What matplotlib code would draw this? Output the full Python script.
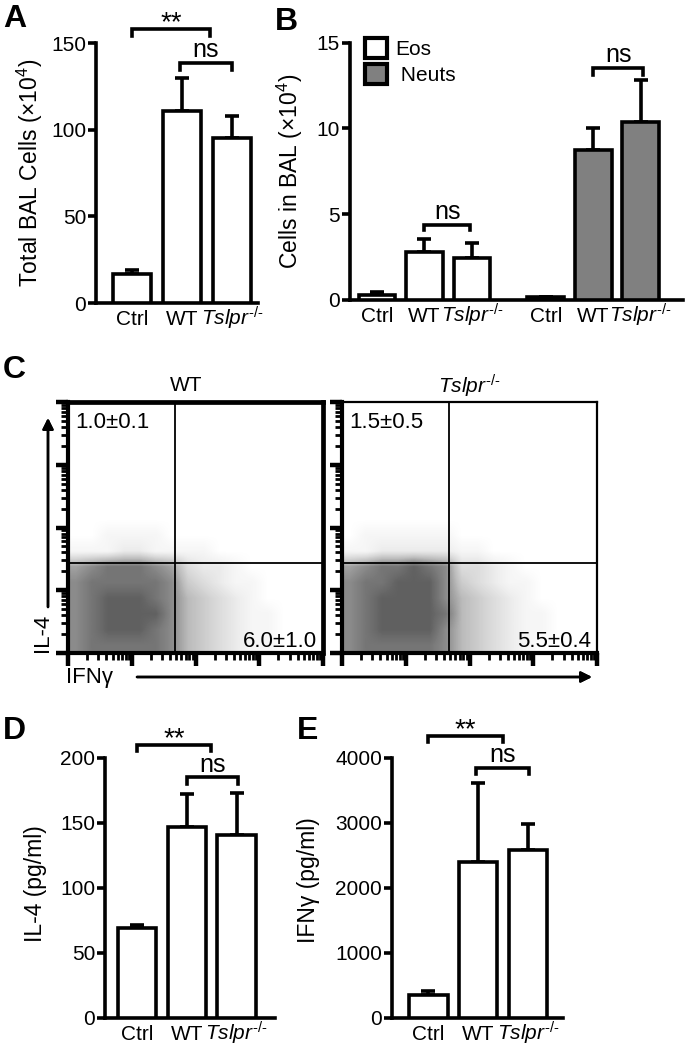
import matplotlib
matplotlib.use('Agg')
import matplotlib.pyplot as plt
import numpy as np
from matplotlib.patches import Patch

plt.rcParams['font.family'] = ['Liberation Sans', 'DejaVu Sans']
plt.rcParams['mathtext.fontset'] = 'custom'
plt.rcParams['mathtext.rm'] = 'Liberation Sans'
plt.rcParams['mathtext.it'] = 'Liberation Sans:italic'
plt.rcParams['mathtext.bf'] = 'Liberation Sans:bold'

# ---------------- data ----------------
KO = r'$\mathit{Tslpr}^{\mathit{\text{-/-}}}$'
groups = ['Ctrl', 'WT', KO]

total_bal = [17, 111, 95]
total_bal_err = [2, 19, 13]

eos = [0.3, 2.8, 2.45]
eos_err = [0.15, 0.75, 0.85]
neuts = [0.15, 8.75, 10.4]
neuts_err = [0.05, 1.3, 2.4]

il4 = [69, 147, 141]
il4_err = [2.5, 25, 32]
ifng = [350, 2400, 2585]
ifng_err = [65, 1215, 400]

# flow plots: quadrant gates (decades) and estimated dot density (0-9),
# cells of 0.25 decade, rows from the bottom (IL-4 0..2.5), cols IFNg 0..4
gate_x = 1.68
gate_y = 1.43
wt_labels = ['1.0\u00b10.1', '6.0\u00b11.0']
ko_labels = ['1.5\u00b10.5', '5.5\u00b10.4']
wt_density = [
    [7, 8, 8, 8, 8, 8, 7, 5, 4, 3, 2, 1, 1, 0, 0, 0],
    [7, 8, 9, 9, 9, 8, 7, 5, 4, 3, 2, 1, 1, 0, 0, 0],
    [7, 8, 9, 9, 9, 9, 7, 5, 4, 3, 2, 1, 1, 0, 0, 0],
    [7, 8, 9, 9, 9, 8, 7, 5, 4, 3, 2, 1, 0, 0, 0, 0],
    [7, 8, 8, 8, 8, 8, 7, 4, 3, 2, 1, 1, 0, 0, 0, 0],
    [6, 7, 8, 8, 8, 7, 6, 3, 2, 2, 1, 0, 0, 0, 0, 0],
    [1, 1, 1, 2, 2, 1, 1, 1, 1, 0, 0, 0, 0, 0, 0, 0],
    [0, 0, 1, 1, 1, 1, 0, 0, 0, 0, 0, 0, 0, 0, 0, 0],
    [0, 0, 0, 0, 0, 0, 0, 0, 0, 0, 0, 0, 0, 0, 0, 0],
    [0, 0, 0, 0, 0, 0, 0, 0, 0, 0, 0, 0, 0, 0, 0, 0],
]
ko_density = [
    [7, 8, 8, 8, 8, 8, 7, 5, 4, 3, 2, 1, 0, 0, 0, 0],
    [7, 8, 9, 9, 9, 9, 7, 5, 4, 3, 2, 1, 1, 0, 0, 0],
    [7, 8, 9, 9, 9, 9, 8, 5, 4, 3, 2, 1, 1, 0, 0, 0],
    [7, 8, 9, 9, 9, 9, 7, 5, 4, 3, 2, 1, 0, 0, 0, 0],
    [7, 8, 8, 9, 9, 9, 7, 4, 3, 2, 1, 1, 0, 0, 0, 0],
    [6, 7, 8, 8, 9, 8, 7, 3, 3, 2, 1, 0, 0, 0, 0, 0],
    [1, 1, 2, 2, 2, 2, 2, 1, 1, 0, 0, 0, 0, 0, 0, 0],
    [0, 1, 1, 1, 1, 1, 1, 0, 0, 0, 0, 0, 0, 0, 0, 0],
    [0, 0, 0, 0, 0, 0, 0, 0, 0, 0, 0, 0, 0, 0, 0, 0],
    [0, 0, 0, 0, 0, 0, 0, 0, 0, 0, 0, 0, 0, 0, 0, 0],
]

LW = 2.6
TICK_FS = 15
LABEL_FS = 16.5


def style_bar_axes(ax, yticks, xlim):
    for s in ['top', 'right']:
        ax.spines[s].set_visible(False)
    for s in ['left', 'bottom']:
        ax.spines[s].set_linewidth(LW)
    ax.set_yticks(yticks)
    ax.set_ylim(yticks[0], yticks[-1])
    ax.set_xlim(*xlim)
    ax.tick_params(axis='y', direction='out', length=6, width=LW, labelsize=TICK_FS, pad=1)
    ax.tick_params(axis='x', length=0, labelsize=TICK_FS, pad=16)


def set_groups(ax, pos, labels):
    ax.set_xticks(pos)
    ax.set_xticklabels(labels)
    for lbl in ax.get_xticklabels():
        lbl.set_verticalalignment('baseline')


def draw_bars(ax, pos, vals, errs, color):
    ax.bar(pos, vals, width=0.77, color=color, edgecolor='black', linewidth=LW, zorder=3)
    ax.errorbar(pos, vals, yerr=[np.zeros(len(errs)), errs], fmt='none', ecolor='black',
                elinewidth=LW, capsize=5, capthick=LW, zorder=2)


def bracket(ax, x0, x1, y, h, label, off, fs):
    ax.plot([x0, x0, x1, x1], [y - h, y, y, y - h], color='black', lw=LW,
            clip_on=False, solid_joinstyle='miter')
    ax.annotate(label, xy=((x0 + x1) / 2, y), xytext=(0, off), textcoords='offset points',
                ha='center', va='baseline', fontsize=fs, annotation_clip=False)


fig = plt.figure(figsize=(6.9, 10.5), dpi=100)

# ---------------- A ----------------
axA = fig.add_axes([0.139, 0.7114, 0.235, 0.2476])
x3 = np.arange(3)
draw_bars(axA, x3, total_bal, total_bal_err, 'white')
style_bar_axes(axA, [0, 50, 100, 150], (-0.72, 2.52))
set_groups(axA, x3, groups)
axA.set_ylabel(r'Total BAL Cells (×10$^4$)', fontsize=LABEL_FS)
axA.yaxis.set_label_coords(-0.315, 0.5)
bracket(axA, 0, 1.56, 158, 4, '**', -1, 20)
bracket(axA, 0.96, 2.0, 138.5, 4, 'ns', 4, 18)

# ---------------- B ----------------
axB = fig.add_axes([0.507, 0.7143, 0.483, 0.245])
pos_e = np.array([0, 1, 2])
pos_n = np.array([3.55, 4.55, 5.55])
draw_bars(axB, pos_e, eos, eos_err, 'white')
draw_bars(axB, pos_n, neuts, neuts_err, '#808080')
style_bar_axes(axB, [0, 5, 10, 15], (-0.57, 6.44))
set_groups(axB, np.concatenate([pos_e, pos_n]), groups + groups)
axB.set_ylabel(r'Cells in BAL (×10$^4$)', fontsize=LABEL_FS)
axB.yaxis.set_label_coords(-0.135, 0.5)
bracket(axB, 1.0, 1.96, 4.38, 0.3, 'ns', 4, 18)
bracket(axB, 4.55, 5.6, 13.55, 0.45, 'ns', 4, 18)
handles = [Patch(facecolor='white', edgecolor='black', linewidth=3, label='Eos'),
           Patch(facecolor='#808080', edgecolor='black', linewidth=3, label=' Neuts')]
axB.legend(handles=handles, loc='upper left', bbox_to_anchor=(0.02, 1.05), frameon=False,
           fontsize=15, handlelength=1.05, handleheight=1.05, handletextpad=0.4,
           labelspacing=0.25, borderaxespad=0)


# ---------------- C ----------------
def flow_panel(rect, density, labels, frame_lw):
    ax = fig.add_axes(rect)
    ax.imshow(np.array(density), extent=(0, 4, 0, 2.5), origin='lower', cmap='Greys',
              vmin=0, vmax=13, interpolation='bilinear', aspect='auto', zorder=1)
    ax.axvline(gate_x, color='black', lw=1.3, zorder=2)
    ax.axhline(gate_y, color='black', lw=1.3, zorder=2)
    ax.set_xlim(0, 4)
    ax.set_ylim(0, 4)
    major = [0, 1, 2, 3, 4]
    minor = [d + np.log10(k) for d in range(4) for k in range(2, 10)]
    ax.set_xticks(major)
    ax.set_yticks(major)
    ax.set_xticks(minor, minor=True)
    ax.set_yticks(minor, minor=True)
    ax.tick_params(which='major', direction='out', length=9, width=3.2,
                   labelleft=False, labelbottom=False)
    ax.tick_params(which='minor', direction='out', length=5, width=2)
    for s in ax.spines.values():
        s.set_linewidth(frame_lw)
    ax.spines['left'].set_linewidth(3)
    ax.spines['bottom'].set_linewidth(3)
    ax.text(0.027, 0.92, labels[0], transform=ax.transAxes, ha='left', va='center', fontsize=16)
    ax.text(0.976, 0.044, labels[1], transform=ax.transAxes, ha='right', va='center', fontsize=16)
    return ax


axC1 = flow_panel([0.0986, 0.3781, 0.3696, 0.239], wt_density, wt_labels, 3.4)
axC2 = flow_panel([0.4957, 0.3781, 0.3696, 0.239], ko_density, ko_labels, 1.6)
axC1.text(0.463, 1.064, 'WT', transform=axC1.transAxes, ha='center', va='center', fontsize=15)
axC2.text(0.50, 1.064, KO, transform=axC2.transAxes, ha='center', va='center', fontsize=15)

# axis arrows and labels
fig.add_artist(plt.annotate('', xy=(48 / 690, 1 - 418 / 1050), xytext=(48 / 690, 1 - 607 / 1050),
                            xycoords='figure fraction', textcoords='figure fraction',
                            arrowprops=dict(arrowstyle='-|>', lw=1.8, color='black',
                                            mutation_scale=16, shrinkA=0, shrinkB=0)))
fig.add_artist(plt.annotate('', xy=(592 / 690, 1 - 677 / 1050), xytext=(137 / 690, 1 - 677 / 1050),
                            xycoords='figure fraction', textcoords='figure fraction',
                            arrowprops=dict(arrowstyle='-|>', lw=1.8, color='black',
                                            mutation_scale=16, shrinkA=0, shrinkB=0)))
fig.text(42 / 690, 1 - 633 / 1050, 'IL-4', rotation=90, ha='center', va='center', fontsize=16)
fig.text(66 / 690, 1 - 678 / 1050, 'IFN\u03b3', ha='left', va='center', fontsize=16)

# ---------------- D ----------------
axD = fig.add_axes([0.152, 0.0305, 0.246, 0.2476])
draw_bars(axD, x3, il4, il4_err, 'white')
style_bar_axes(axD, [0, 50, 100, 150, 200], (-0.64, 2.76))
set_groups(axD, x3, groups)
axD.set_ylabel('IL-4 (pg/ml)', fontsize=LABEL_FS)
axD.yaxis.set_label_coords(-0.34, 0.515)
bracket(axD, 0, 1.48, 210, 5, '**', -1, 20)
bracket(axD, 1.0, 2.02, 185, 5, 'ns', 4, 18)

# ---------------- E ----------------
axE = fig.add_axes([0.568, 0.0305, 0.248, 0.2476])
draw_bars(axE, x3, ifng, ifng_err, 'white')
style_bar_axes(axE, [0, 1000, 2000, 3000, 4000], (-0.73, 2.7))
set_groups(axE, x3, groups)
axE.set_ylabel('IFN\u03b3 (pg/ml)', fontsize=LABEL_FS)
axE.yaxis.set_label_coords(-0.42, 0.53)
bracket(axE, 0, 1.49, 4340, 95, '**', -1, 20)
bracket(axE, 0.96, 2.02, 3850, 95, 'ns', 4, 18)

# panel letters
for letter, x, y in [('A', 0.004, 0.996), ('B', 0.399, 0.993), ('C', 0.004, 0.662),
                     ('D', 0.004, 0.318), ('E', 0.43, 0.318)]:
    fig.text(x, y, letter, ha='left', va='top', fontsize=23, fontweight='bold')

fig.savefig('out.png', dpi=100)
